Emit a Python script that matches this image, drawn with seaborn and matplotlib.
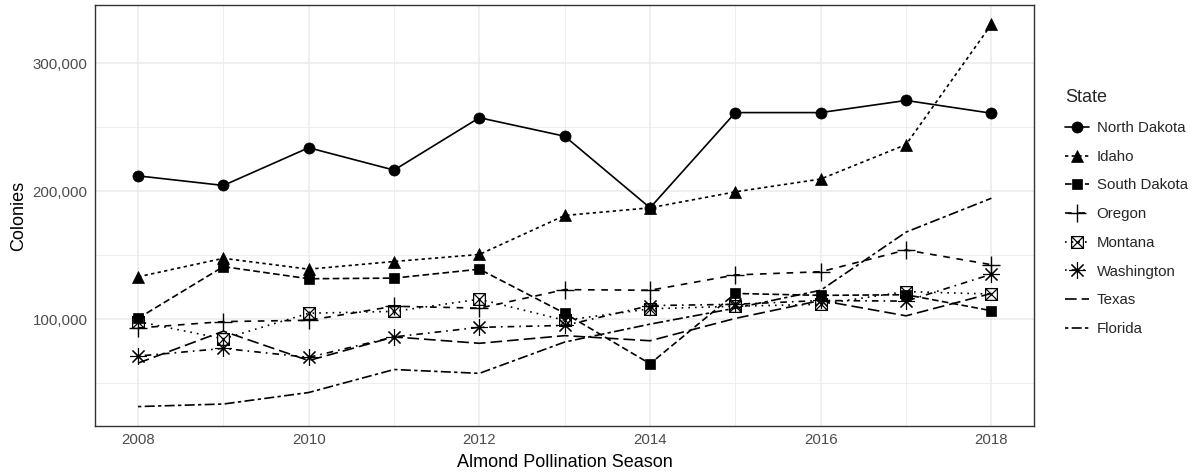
import numpy as np
import pandas as pd
import matplotlib
matplotlib.use("Agg")
import matplotlib.pyplot as plt
from matplotlib.lines import Line2D
from matplotlib.path import Path
from matplotlib.ticker import FuncFormatter, MultipleLocator
import seaborn as sns

sns.set_style("white")
plt.rcParams["font.family"] = ["Liberation Sans", "DejaVu Sans"]

# -- data -- #
years = [2008, 2009, 2010, 2011, 2012, 2013, 2014, 2015, 2016, 2017, 2018]
north_dakota = [212000, 204500, 234000, 216500, 257500, 243000, 187000, 261500, 261500, 271000, 261000]
idaho = [133000, 147500, 139000, 145000, 150500, 181000, 187000, 199500, 209500, 236500, 330500]
south_dakota = [100500, 141000, 131500, 132000, 139000, 104500, 65000, 120000, 118500, 119000, 106500]
oregon = [93000, 98000, 99000, 110000, 108500, 123000, 122500, 134500, 137000, 154000, 142500]
montana = [98000, 84500, 104500, 106000, 115500, 99000, 108000, 110000, 111500, 121500, 119500]
washington = [71000, 77000, 70000, 86000, 93500, 95000, 110500, 111500, 114500, 114000, 135000]
texas = [65500, 90500, 67500, 86000, 81000, 87000, 83000, 100500, 114500, 102500, 120000]
florida = [31500, 33500, 42500, 60500, 57500, 82000, 96000, 108500, 122500, 168000, 194500]

states = ["North Dakota", "Idaho", "South Dakota", "Oregon",
          "Montana", "Washington", "Texas", "Florida"]
values = [north_dakota, idaho, south_dakota, oregon, montana, washington, texas, florida]

df = pd.DataFrame({
    "Year": np.tile(years, len(states)),
    "Colonies": np.concatenate(values),
    "State": np.repeat(states, len(years)),
})

# ggplot-like linetypes and shapes
box_x = Path([(-1, -1), (1, -1), (1, 1), (-1, 1), (-1, -1), (-1, -1), (1, 1), (-1, 1), (1, -1)],
             [Path.MOVETO, Path.LINETO, Path.LINETO, Path.LINETO, Path.CLOSEPOLY,
              Path.MOVETO, Path.LINETO, Path.MOVETO, Path.LINETO])

styles = {
    "North Dakota": dict(ls="-", marker="o", ms=8.0, mfc="black", mew=0.5),
    "Idaho": dict(ls=(0, (2, 2)), marker="^", ms=8.5, mfc="black", mew=0.5),
    "South Dakota": dict(ls=(0, (4, 2)), marker="s", ms=7.3, mfc="black", mew=0.5),
    "Oregon": dict(ls=(0, (4, 4)), marker="+", ms=13, mfc="none", mew=1.0),
    "Montana": dict(ls=(0, (1, 3)), marker=box_x, ms=8.5, mfc="none", mew=0.9),
    "Washington": dict(ls=(0, (1, 3, 4, 3)), marker=(8, 2, 0), ms=12, mfc="none", mew=0.8),
    "Texas": dict(ls=(0, (7, 3)), marker="", ms=0, mfc="none", mew=0),
    "Florida": dict(ls=(0, (2, 2, 6, 2)), marker="", ms=0, mfc="none", mew=0),
}

fig = plt.figure(figsize=(11.92, 4.76), dpi=100)
ax = fig.add_axes([0.0800, 0.1057, 0.7875, 0.8832])

lw = 1.2
# lines first, then points on top (like geom_line + geom_point)
for st in states:
    s = styles[st]
    sns.lineplot(data=df[df["State"] == st], x="Year", y="Colonies", ax=ax,
                 color="black", linewidth=lw, linestyle=s["ls"], errorbar=None, zorder=2)
for st in states:
    s = styles[st]
    if s["marker"] == "":
        continue
    sns.lineplot(data=df[df["State"] == st], x="Year", y="Colonies", ax=ax,
                 color="black", linestyle="", marker=s["marker"], markersize=s["ms"],
                 markerfacecolor=s["mfc"], markeredgecolor="black",
                 markeredgewidth=s["mew"], errorbar=None, zorder=3)

# axis ranges with 5% expansion
all_vals = np.concatenate(values)
ypad = (all_vals.max() - all_vals.min()) * 0.05
ax.set_ylim(all_vals.min() - ypad, all_vals.max() + ypad)
ax.set_xlim(years[0] - 0.5, years[-1] + 0.5)

ax.xaxis.set_major_locator(MultipleLocator(2))
ax.xaxis.set_minor_locator(MultipleLocator(1))
ax.yaxis.set_major_locator(MultipleLocator(100000))
ax.yaxis.set_minor_locator(MultipleLocator(50000))
ax.yaxis.set_major_formatter(FuncFormatter(lambda v, p: f"{int(v):,}"))

ax.grid(which="major", color="#EBEBEB", linewidth=1.1)
ax.grid(which="minor", color="#EBEBEB", linewidth=0.6)
ax.set_axisbelow(True)

for sp in ax.spines.values():
    sp.set_color("#333333")
    sp.set_linewidth(1.0)

ax.tick_params(which="major", length=3, width=0.8, color="#333333",
               labelsize=10.8, labelcolor="#4D4D4D", pad=2.5)
ax.tick_params(which="minor", length=0)

ax.set_xlabel("Almond Pollination Season", fontsize=13, color="black", labelpad=5)
ax.set_ylabel("Colonies", fontsize=13, color="black", labelpad=4)

handles = []
for st in states:
    s = styles[st]
    handles.append(Line2D([0], [0], color="black", linewidth=lw, linestyle=s["ls"],
                          marker=s["marker"] if s["marker"] != "" else None,
                          markersize=s["ms"], markerfacecolor=s["mfc"],
                          markeredgecolor="black", markeredgewidth=s["mew"]))

leg = ax.legend(handles, states, title="State", loc="upper left",
                bbox_to_anchor=(1.033, 0.80), frameon=False, fontsize=10.8,
                title_fontsize=13, handlelength=1.6, handletextpad=0.5,
                labelspacing=0.98, borderpad=0, borderaxespad=0, numpoints=1,
                alignment="left")

fig.savefig("out.png", dpi=100)
plt.close()
